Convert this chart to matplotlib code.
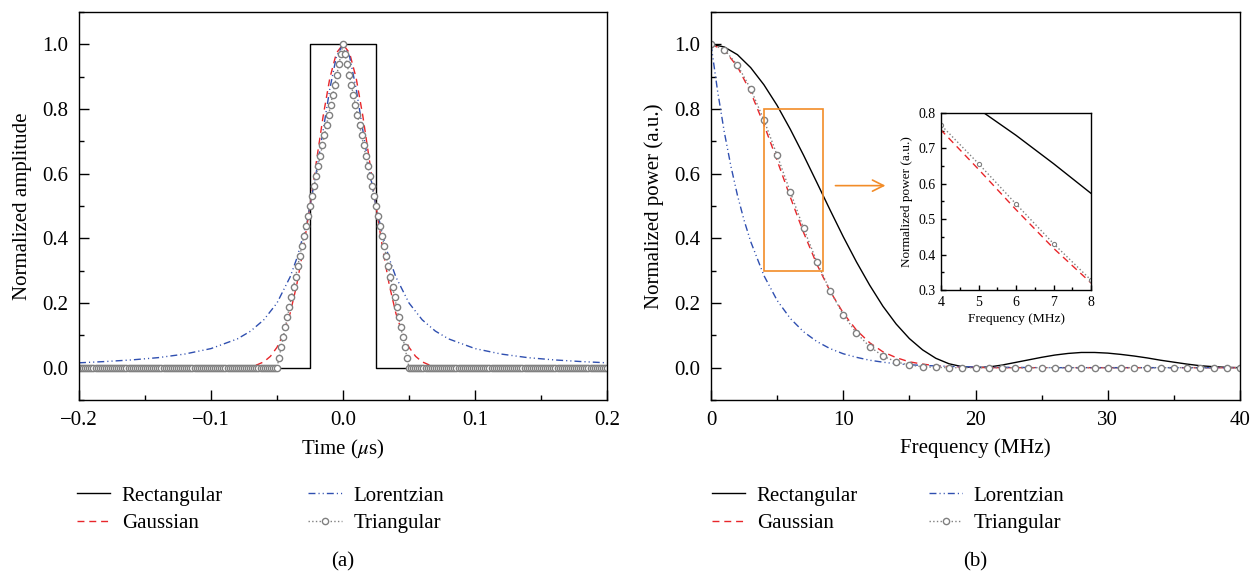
import numpy as np
import matplotlib.pyplot as plt
from matplotlib.patches import Rectangle
from matplotlib.ticker import MultipleLocator

plt.rcParams['font.family'] = 'Liberation Serif'
plt.rcParams['mathtext.fontset'] = 'stix'

# ---- (a) time domain pulses ----
# rectangular pulse, 50 ns wide
t_rect = [-0.2, -0.025, -0.025, 0.025, 0.025, 0.2]
rect_amp = [0, 0, 1, 1, 0, 0]

# gaussian, sampled on |t| and mirrored
t_gauss = [0.0, 0.005, 0.01, 0.015, 0.02, 0.025, 0.03, 0.035, 0.04, 0.045,
           0.05, 0.055, 0.06, 0.065, 0.07, 0.2]
gauss_amp = [1.0, 0.973, 0.895, 0.779, 0.642, 0.500, 0.369, 0.257, 0.169, 0.106,
             0.063, 0.035, 0.018, 0.009, 0.004, 0.0]

# lorentzian, sampled on |t| and mirrored
t_lor = [0.0, 0.005, 0.01, 0.015, 0.02, 0.025, 0.03, 0.035, 0.04, 0.05,
         0.06, 0.07, 0.08, 0.1, 0.12, 0.14, 0.16, 0.18, 0.2]
lor_amp = [1.0, 0.962, 0.862, 0.735, 0.610, 0.500, 0.410, 0.338, 0.281, 0.200,
           0.148, 0.113, 0.089, 0.059, 0.042, 0.031, 0.024, 0.019, 0.015]

# triangular pulse samples (one side, from the peak out to t = 0.05)
tri_half = [1.000, 0.969, 0.938, 0.906, 0.875, 0.844, 0.813, 0.781, 0.750,
            0.719, 0.688, 0.656, 0.625, 0.594, 0.563, 0.531, 0.500, 0.469,
            0.438, 0.406, 0.375, 0.344, 0.313, 0.281, 0.250, 0.219, 0.188,
            0.156, 0.125, 0.094, 0.063, 0.031, 0.000]
t_tri = np.linspace(-0.2, 0.2, 257)
tri_amp = [0.0] * 96 + tri_half[:0:-1] + tri_half + [0.0] * 96

# ---- (b) power spectra ----
freq = list(range(41))
rect_pow = [1.0, 0.992, 0.968, 0.928, 0.875, 0.811, 0.737, 0.657, 0.573, 0.488,
            0.405, 0.327, 0.255, 0.190, 0.135, 0.090, 0.055, 0.029, 0.012, 0.003,
            0.0, 0.002, 0.008, 0.016, 0.024, 0.032, 0.039, 0.044, 0.047, 0.047,
            0.045, 0.041, 0.036, 0.030, 0.023, 0.017, 0.011, 0.006, 0.003, 0.001,
            0.0]
gauss_pow = [1.0, 0.982, 0.931, 0.852, 0.752, 0.641, 0.527, 0.418, 0.320, 0.237,
             0.169, 0.116, 0.077, 0.049, 0.031, 0.018, 0.011, 0.006, 0.003, 0.002,
             0.001] + [0.0] * 20
tri_pow = [1.0, 0.984, 0.936, 0.862, 0.766, 0.657, 0.543, 0.431, 0.328, 0.238,
           0.164, 0.107, 0.065, 0.036, 0.018, 0.008, 0.003, 0.001, 0.0, 0.0,
           0.0] + [0.0] * 20
f_lor = [0, 0.5, 1, 1.5, 2, 2.5, 3, 4, 5, 6, 7, 8, 9, 10, 11, 12, 13, 14, 15,
         16, 18, 20, 25, 30, 40]
lor_pow = [1.0, 0.855, 0.730, 0.624, 0.533, 0.456, 0.390, 0.285, 0.208, 0.152,
           0.111, 0.081, 0.059, 0.043, 0.032, 0.023, 0.017, 0.012, 0.009,
           0.007, 0.004, 0.002, 0.0, 0.0, 0.0]

labels = ['Rectangular', 'Gaussian', 'Lorentzian', 'Triangular']

black = 'black'
red = '#e8262a'
blue = '#2f4fb0'
grey = '#808080'
orange = '#f28c28'
dash = (5, 3.5)
dashdotdot = (5, 2.2, 0.8, 2.2, 0.8, 2.2)

FS = 15


def mirror(x, y):
    x = np.asarray(x)
    y = np.asarray(y)
    return np.concatenate([-x[::-1], x[1:]]), np.concatenate([y[::-1], y[1:]])


def style_axes(ax, size=FS, major=7, minor=3.5, pad=8):
    for s in ax.spines.values():
        s.set_linewidth(1.0)
    ax.tick_params(which='both', direction='in', top=False, right=False,
                   width=1.0, labelsize=size, pad=pad)
    ax.tick_params(which='major', length=major)
    ax.tick_params(which='minor', length=minor)


def add_legend(ax, x0, colsp):
    ax.legend(ncol=2, loc='upper left', bbox_to_anchor=(x0 / 1260, 1 - 486 / 574),
              bbox_transform=fig.transFigure, frameon=False, fontsize=FS,
              handlelength=1.6, handletextpad=0.55, columnspacing=colsp,
              labelspacing=0.38, borderpad=0, borderaxespad=0)


fig = plt.figure(figsize=(12.6, 5.74), dpi=100)

# ---------------- panel (a) ----------------
ax1 = fig.add_axes([79 / 1260, 174 / 574, 528 / 1260, 388 / 574])
ax1.plot(t_rect, rect_amp, color=black, lw=1.0, label=labels[0])
tg, yg = mirror(t_gauss, gauss_amp)
ax1.plot(tg, yg, color=red, lw=1.0, dashes=dash, label=labels[1])
tl, yl = mirror(t_lor, lor_amp)
ax1.plot(tl, yl, color=blue, lw=1.0, dashes=dashdotdot, label=labels[2])
ax1.plot(t_tri, tri_amp, color=grey, lw=1.0, ls=':', marker='o', ms=4.5,
         mfc='white', mec=grey, mew=1.0, label=labels[3])

ax1.set_xlim(-0.2, 0.2)
ax1.set_ylim(-0.1, 1.1)
ax1.set_xticks([-0.2, -0.1, 0.0, 0.1, 0.2],
               ['\u22120.2', '\u22120.1', '0.0', '0.1', '0.2'])
ax1.xaxis.set_minor_locator(MultipleLocator(0.05))
ax1.set_yticks([0.0, 0.2, 0.4, 0.6, 0.8, 1.0],
               ['0.0', '0.2', '0.4', '0.6', '0.8', '1.0'])
ax1.yaxis.set_minor_locator(MultipleLocator(0.1))
style_axes(ax1)
ax1.set_xlabel('Time ($\\mu$s)', fontsize=FS, labelpad=6)
ax1.set_ylabel('Normalized amplitude', fontsize=FS, labelpad=7)

add_legend(ax1, 77, 4.1)
fig.text(343 / 1260, 1 - 562 / 574, '(a)', ha='center', va='center', fontsize=FS)

# ---------------- panel (b) ----------------
ax2 = fig.add_axes([711 / 1260, 174 / 574, 529 / 1260, 388 / 574])
ax2.plot(freq, rect_pow, color=black, lw=1.0, label=labels[0])
ax2.plot(freq, gauss_pow, color=red, lw=1.0, dashes=dash, label=labels[1])
ax2.plot(f_lor, lor_pow, color=blue, lw=1.0, dashes=dashdotdot, label=labels[2])
ax2.plot(freq, tri_pow, color=grey, lw=1.0, ls=':', marker='o', ms=4.5,
         mfc='white', mec=grey, mew=1.0, label=labels[3])

ax2.set_xlim(0, 40)
ax2.set_ylim(-0.1, 1.1)
ax2.xaxis.set_major_locator(MultipleLocator(10))
ax2.xaxis.set_minor_locator(MultipleLocator(5))
ax2.set_yticks([0.0, 0.2, 0.4, 0.6, 0.8, 1.0],
               ['0.0', '0.2', '0.4', '0.6', '0.8', '1.0'])
ax2.yaxis.set_minor_locator(MultipleLocator(0.1))
style_axes(ax2)
ax2.set_xlabel('Frequency (MHz)', fontsize=FS, labelpad=6)
ax2.set_ylabel('Normalized power (a.u.)', fontsize=FS, labelpad=7)

# zoomed region marker and arrow
ax2.add_patch(Rectangle((4, 0.3), 4.5, 0.5, fill=False, ec=orange, lw=1.2, zorder=5))
ax2.annotate('', xy=(13.4, 0.563), xytext=(9.2, 0.563),
             arrowprops=dict(arrowstyle='->', color=orange, lw=1.2,
                             mutation_scale=20))

add_legend(ax2, 712, 3.4)
fig.text(975 / 1260, 1 - 562 / 574, '(b)', ha='center', va='center', fontsize=FS)

# inset
axi = fig.add_axes([941 / 1260, 284 / 574, 150 / 1260, 177 / 574])
axi.plot(freq, rect_pow, color=black, lw=1.0)
axi.plot(freq, gauss_pow, color=red, lw=1.0, dashes=dash)
axi.plot(f_lor, lor_pow, color=blue, lw=1.0, dashes=dashdotdot)
axi.plot(freq, tri_pow, color=grey, lw=1.0, ls=':', marker='o', ms=3,
         mfc='white', mec=grey, mew=0.8)
axi.set_xlim(4, 8)
axi.set_ylim(0.3, 0.8)
axi.xaxis.set_major_locator(MultipleLocator(1))
axi.xaxis.set_minor_locator(MultipleLocator(0.5))
axi.yaxis.set_major_locator(MultipleLocator(0.1))
axi.yaxis.set_minor_locator(MultipleLocator(0.05))
style_axes(axi, size=10, major=3.5, minor=2, pad=4)
axi.set_xlabel('Frequency (MHz)', fontsize=9.7, labelpad=3)
axi.set_ylabel('Normalized power (a.u.)', fontsize=9.5, labelpad=4)

fig.savefig('out.png', dpi=100)
